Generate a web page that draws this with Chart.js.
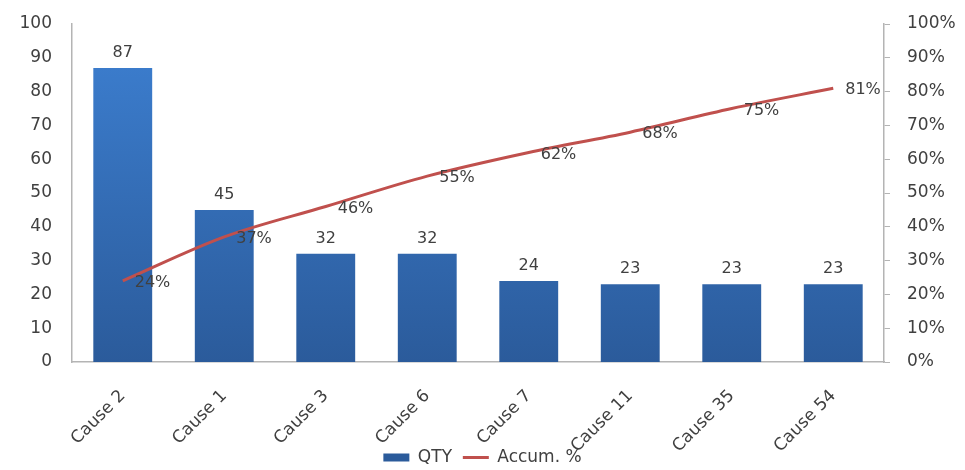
<!DOCTYPE html>
<html>
<head>
<meta charset="utf-8">
<script src="https://cdn.jsdelivr.net/npm/chart.js@4"></script>
<style>
    html, body { margin: 0; padding: 0; background: #ffffff; }
    #wrap { width: 965px; height: 470px; position: relative; }
</style>
</head>
<body>
<div id="wrap"><canvas id="pareto"></canvas></div>
<script>
// Chart data
const causes = ['Cause 2', 'Cause 1', 'Cause 3', 'Cause 6', 'Cause 7', 'Cause 11', 'Cause 35', 'Cause 54'];
const qty = [87, 45, 32, 32, 24, 23, 23, 23];
const accumPct = [24, 37, 46, 55, 62, 68, 75, 81];

Chart.defaults.color = '#404040';
Chart.defaults.font.family = "'DejaVu Sans', Verdana, sans-serif";
Chart.defaults.font.size = 17;

// bar gradient, lighter on top
function barFill(context) {
    const area = context.chart.chartArea;
    if (!area) return '#3572c0';
    const g = context.chart.ctx.createLinearGradient(0, area.top, 0, area.bottom);
    g.addColorStop(0, '#3d80d2');
    g.addColorStop(1, '#2b5b9b');
    return g;
}

// draws the value labels (bars: above, line: to the right)
const valueLabels = {
    id: 'valueLabels',
    afterDatasetsDraw(chart) {
        const ctx = chart.ctx;
        ctx.save();
        ctx.font = "16px 'DejaVu Sans', Verdana, sans-serif";
        ctx.fillStyle = '#404040';

        const bars = chart.getDatasetMeta(0).data;
        ctx.textAlign = 'center';
        ctx.textBaseline = 'middle';
        bars.forEach((bar, i) => {
            ctx.fillText(qty[i], bar.x, bar.y - 15);
        });

        const pts = chart.getDatasetMeta(1).data;
        ctx.textAlign = 'left';
        pts.forEach((pt, i) => {
            ctx.fillText(accumPct[i] + '%', pt.x + 12, pt.y + 2);
        });
        ctx.restore();
    }
};

// fixed axis width, and no extra top/bottom padding from tick padding
const fixY = (w) => (scale) => {
    scale.width = w;
    scale.paddingTop = 10;
    scale.paddingBottom = 10;
};

const chartPareto = new Chart(document.getElementById('pareto').getContext('2d'), {
    data: {
        labels: causes,
        datasets: [{
            type: 'bar',
            label: 'QTY',
            data: qty,
            backgroundColor: barFill,
            borderWidth: 0,
            barPercentage: 0.58,
            categoryPercentage: 1.0,
            yAxisID: 'y',
            order: 2,
            pointStyle: 'rect'
        }, {
            type: 'line',
            label: 'Accum. %',
            data: accumPct,
            borderColor: '#c0504d',
            backgroundColor: '#c0504d',
            borderWidth: 3,
            cubicInterpolationMode: 'monotone',
            pointRadius: 0,
            yAxisID: 'y2',
            order: 1,
            pointStyle: 'line'
        }]
    },
    options: {
        responsive: true,
        maintainAspectRatio: false,
        animation: false,
        layout: { padding: { top: 24, right: 0, left: 0, bottom: -6 } },
        scales: {
            x: {
                grid: { display: false, drawTicks: false },
                border: { display: true, color: '#b4b4b4', width: 1.5 },
                ticks: { maxRotation: 45, minRotation: 45, padding: 24, color: '#404040', font: { size: 17 } },
                afterFit: (scale) => {
                    scale.height = 87;
                    scale._computeLabelArea = () => null; // let the rotated labels run into the legend band
                }
            },
            y: {
                position: 'left',
                min: 0,
                max: 100,
                grid: { display: false, drawTicks: false },
                border: { display: true, color: '#b4b4b4', width: 1.5 },
                ticks: { stepSize: 10, padding: 20, color: '#404040', font: { size: 17 } },
                afterFit: fixY(72)
            },
            y2: {
                position: 'right',
                min: 0,
                max: 100,
                grid: { display: true, drawOnChartArea: false, drawTicks: true, tickLength: 6, color: '#b4b4b4' },
                border: { display: true, color: '#b4b4b4', width: 1.5 },
                ticks: { stepSize: 10, padding: 17, color: '#404040', font: { size: 17 }, callback: (v) => v + '%' },
                afterFit: fixY(81)
            }
        },
        plugins: {
            legend: {
                position: 'bottom',
                labels: {
                    usePointStyle: true,
                    pointStyleWidth: 26,
                    boxHeight: 8,
                    padding: 0,
                    color: '#404040',
                    font: { size: 17 },
                    generateLabels: (chart) => {
                        // a little room between the two entries
                        const items = Chart.defaults.plugins.legend.labels.generateLabels(chart);
                        items.forEach((it) => { if (it.datasetIndex === 0) it.text = it.text + '  '; });
                        return items;
                    },
                    sort: (a, b) => a.datasetIndex - b.datasetIndex
                }
            },
            tooltip: { enabled: false }
        }
    },
    plugins: [valueLabels]
});
</script>
</body>
</html>
